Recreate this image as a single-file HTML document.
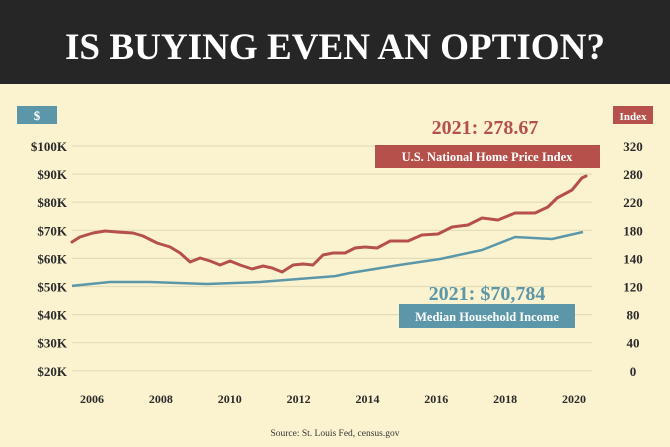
<!DOCTYPE html>
<html><head><meta charset="utf-8"><style>
html,body{margin:0;padding:0;background:#fbf3d0;}
svg{display:block;}
text{font-family:"Liberation Serif",serif;font-weight:bold;}
</style></head><body>
<svg id="chart" width="670" height="447" viewBox="0 0 670 447">
<rect x="0" y="0" width="670" height="447" fill="#fbf3d0"/>
<rect x="0" y="0" width="670" height="84" fill="#262626"/>
<text x="335" y="59" text-anchor="middle" font-size="37" fill="#ffffff" textLength="540" lengthAdjust="spacingAndGlyphs">IS BUYING EVEN AN OPTION?</text>
<rect x="17" y="106" width="40" height="18" fill="#5b97a8"/>
<text x="37" y="120" text-anchor="middle" font-size="13" fill="#fff">$</text>
<rect x="613" y="106" width="40" height="18" fill="#b5514a"/>
<text x="633" y="120" text-anchor="middle" font-size="11" fill="#fff">Index</text>
<g id="grid"></g><g id="lines"></g>
<text x="485" y="134" text-anchor="middle" font-size="20" fill="#b5514a">2021: 278.67</text>
<rect x="375" y="145" width="225" height="23" fill="#b5514a"/>
<text x="487" y="161" text-anchor="middle" font-size="12.5" fill="#fff">U.S. National Home Price Index</text>
<text x="487" y="300" text-anchor="middle" font-size="20" fill="#5b97a8">2021: $70,784</text>
<rect x="399" y="304" width="176" height="24" fill="#5b97a8"/>
<text x="487" y="321" text-anchor="middle" font-size="12.5" fill="#fff">Median Household Income</text>
<text x="335" y="436" text-anchor="middle" font-size="9.5" font-weight="normal" style="font-weight:normal" fill="#333">Source: St. Louis Fed, census.gov</text>
</svg>
<script>
const leftTicks=[100,90,80,70,60,50,40,30,20];
const leftTickLabels=["$100K","$90K","$80K","$70K","$60K","$50K","$40K","$30K","$20K"];
const rightTickLabels=["320","280","220","180","140","120","80","40","0"];
const xTickYears=[2006,2008,2010,2012,2014,2016,2018,2020];
const indexYears=[2005.42,2005.65,2006.03,2006.38,2006.73,2007.19,2007.48,2007.89,2008.27,2008.56,2008.85,2009.14,2009.43,2009.72,2010.01,2010.30,2010.65,2010.97,2011.23,2011.52,2011.84,2012.13,2012.42,2012.71,2013.00,2013.35,2013.64,2013.93,2014.28,2014.66,2015.18,2015.58,2016.05,2016.46,2016.92,2017.33,2017.79,2018.29,2018.87,2019.24,2019.51,2019.94,2020.23,2020.35];
const indexValues=[182.9,190.0,195.7,198.6,197.1,195.7,191.4,181.4,175.7,167.1,154.3,160.0,155.7,150.0,155.7,150.0,144.3,148.6,145.7,140.0,150.0,151.4,150.0,164.3,167.1,167.1,174.3,175.7,174.3,184.3,184.3,192.9,194.3,204.3,207.1,217.1,214.3,224.3,224.3,232.9,245.7,257.1,274.3,277.1];
const incomeYears=[2005.42,2006.52,2007.68,2009.34,2010.88,2012.04,2013.06,2013.49,2014.95,2016.11,2017.33,2018.29,2019.36,2020.26];
const incomeValues=[50.2,51.6,51.6,50.9,51.6,52.7,53.7,54.8,57.7,59.8,63.0,67.6,66.9,69.4];

const NS="http://www.w3.org/2000/svg";
const xS=yr=>92+(yr-2006)*34.43;
const yL=k=>146+(100-k)*2.81;
const yR=v=>174-(v-280)*0.7;
const grid=document.getElementById('grid'),lines=document.getElementById('lines');
function mk(tag,attrs,parent,txt){const e=document.createElementNS(NS,tag);for(const k in attrs)e.setAttribute(k,attrs[k]);if(txt!==undefined)e.textContent=txt;parent.appendChild(e);return e;}
leftTicks.forEach((k,i)=>{
  const y=yL(k);
  const g=mk('line',{x1:72,x2:592,y1:y,y2:y,stroke:'#e3dcb9','stroke-width':1.2},grid);
  
  
  const t=mk('text',{x:67,y:y+5,'text-anchor':'end','font-size':13,fill:'#2a2a2a'},grid,leftTickLabels[i]);
  
  
  const r=mk('text',{x:633,y:y+5,'text-anchor':'middle','font-size':13,fill:'#2a2a2a'},grid,rightTickLabels[i]);
  
  
});
xTickYears.forEach(yr=>{
  const t=mk('text',{x:xS(yr),y:403,'text-anchor':'middle','font-size':12,fill:'#2a2a2a'},grid,String(yr));
  
  
});
const ip=mk('polyline',{points:incomeYears.map((y,i)=>xS(y).toFixed(1)+','+yL(incomeValues[i]).toFixed(1)).join(' '),fill:'none',stroke:'#5b97a8','stroke-width':2.5,'stroke-linejoin':'round'},lines);


const hp=mk('polyline',{points:indexYears.map((y,i)=>xS(y).toFixed(1)+','+yR(indexValues[i]).toFixed(1)).join(' '),fill:'none',stroke:'#b5514a','stroke-width':3,'stroke-linejoin':'round','stroke-linecap':'round'},lines);


</script>
</body></html>
